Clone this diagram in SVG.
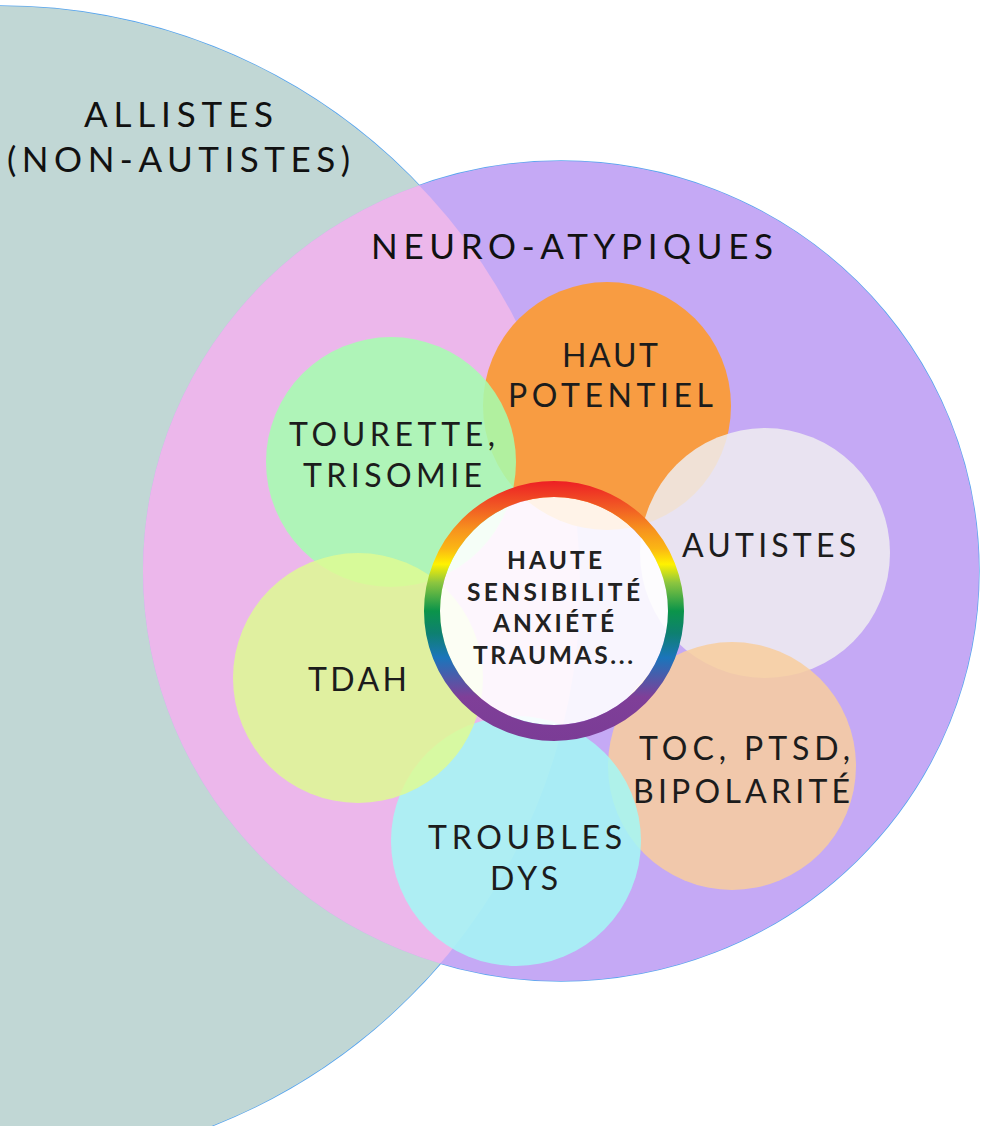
<svg xmlns="http://www.w3.org/2000/svg" width="994" height="1148" viewBox="0 0 994 1148">
  <defs>
    <style>
      .lbl { font-family: Lato, "Liberation Sans", sans-serif; font-size: 32px; fill: #1c1c1c; }
      .big { font-size: 35px; fill: #111; }
      .ctr { font-size: 24.5px; font-weight: 700; fill: #222; }
      .edge { fill: none; stroke: #5aa6ee; stroke-width: 1.4; }
    </style>
    <clipPath id="pageClip"><rect x="0" y="0" width="994" height="1126"/></clipPath>
    <clipPath id="allClip"><circle cx="0" cy="586" r="580"/></clipPath>
    <linearGradient id="rainbow" gradientUnits="userSpaceOnUse" x1="0" y1="481" x2="0" y2="741">
      <stop offset="0" stop-color="#ed1f24"/>
      <stop offset="0.1" stop-color="#f15a24"/>
      <stop offset="0.19" stop-color="#f7941d"/>
      <stop offset="0.26" stop-color="#fbb614"/>
      <stop offset="0.32" stop-color="#fff200"/>
      <stop offset="0.39" stop-color="#8dc63f"/>
      <stop offset="0.5" stop-color="#0b944a"/>
      <stop offset="0.585" stop-color="#0e8070"/>
      <stop offset="0.68" stop-color="#1b75bb"/>
      <stop offset="0.83" stop-color="#7f3f98"/>
      <stop offset="1" stop-color="#7b3c96"/>
    </linearGradient>
  </defs>

  <g id="outer-edges">
    <circle class="edge" cx="0" cy="586" r="580" clip-path="url(#pageClip)"/>
    <ellipse class="edge" cx="561" cy="571" rx="418" ry="410"/>
  </g>

  <g id="allistes">
    <circle cx="0" cy="586" r="580" fill="#c1d7d5" clip-path="url(#pageClip)"/>
    <text class="lbl big" x="84" y="127" textLength="189" lengthAdjust="spacing">ALLISTES</text>
    <text class="lbl big" x="7" y="172" textLength="343" lengthAdjust="spacing">(NON-AUTISTES)</text>
  </g>

  <g id="neuro-atypiques">
    <ellipse cx="561" cy="571" rx="418" ry="410" fill="#c5a9f5"/>
    <ellipse cx="561" cy="571" rx="418" ry="410" fill="#ecb7eb" clip-path="url(#allClip)"/>
    <text class="lbl big" x="371" y="259" textLength="402" lengthAdjust="spacing">NEURO-ATYPIQUES</text>
  </g>

  <g id="haut-potentiel">
    <circle cx="607" cy="406" r="124" fill="#f89c42"/>
  </g>
  <g id="autistes">
    <circle cx="765" cy="553" r="125" fill="#eeedf0" fill-opacity="0.85"/>
  </g>
  <g id="toc">
    <circle cx="732" cy="766" r="124" fill="#f8ce9d" fill-opacity="0.85"/>
  </g>
  <g id="troubles-dys">
    <circle cx="516" cy="841" r="125" fill="#a3f8f5" fill-opacity="0.85"/>
  </g>
  <g id="tourette">
    <circle cx="391" cy="462" r="125" fill="#a5ffaf" fill-opacity="0.85"/>
  </g>
  <g id="tdah">
    <circle cx="358" cy="678" r="125" fill="#defa93" fill-opacity="0.85"/>
  </g>

  <g id="labels">
    <text class="lbl" x="562" y="367" textLength="96" lengthAdjust="spacing">HAUT</text>
    <text class="lbl" x="508" y="407" textLength="205" lengthAdjust="spacing">POTENTIEL</text>
    <text class="lbl" x="682" y="557" textLength="174" lengthAdjust="spacing">AUTISTES</text>
    <text class="lbl" x="639" y="760" textLength="211" lengthAdjust="spacing">TOC, PTSD,</text>
    <text class="lbl" x="633" y="803" textLength="217" lengthAdjust="spacing">BIPOLARITÉ</text>
    <text class="lbl" x="428" y="849" textLength="194" lengthAdjust="spacing">TROUBLES</text>
    <text class="lbl" x="490" y="890" textLength="68" lengthAdjust="spacing">DYS</text>
    <text class="lbl" x="289" y="446" textLength="206" lengthAdjust="spacing">TOURETTE,</text>
    <text class="lbl" x="303" y="487" textLength="179" lengthAdjust="spacing">TRISOMIE</text>
    <text class="lbl" x="308" y="691" textLength="99" lengthAdjust="spacing">TDAH</text>
  </g>

  <g id="centre">
    <circle cx="554" cy="611" r="114" fill="#ffffff" fill-opacity="0.88"/>
    <circle cx="554" cy="611" r="122" fill="none" stroke="url(#rainbow)" stroke-width="16"/>
    <text class="lbl ctr" x="507" y="569" textLength="95" lengthAdjust="spacing">HAUTE</text>
    <text class="lbl ctr" x="467" y="601" textLength="173" lengthAdjust="spacing">SENSIBILITÉ</text>
    <text class="lbl ctr" x="493" y="632" textLength="121" lengthAdjust="spacing">ANXIÉTÉ</text>
    <text class="lbl ctr" x="473" y="664" textLength="160" lengthAdjust="spacing">TRAUMAS...</text>
  </g>

  <g id="connectors"></g>
</svg>
